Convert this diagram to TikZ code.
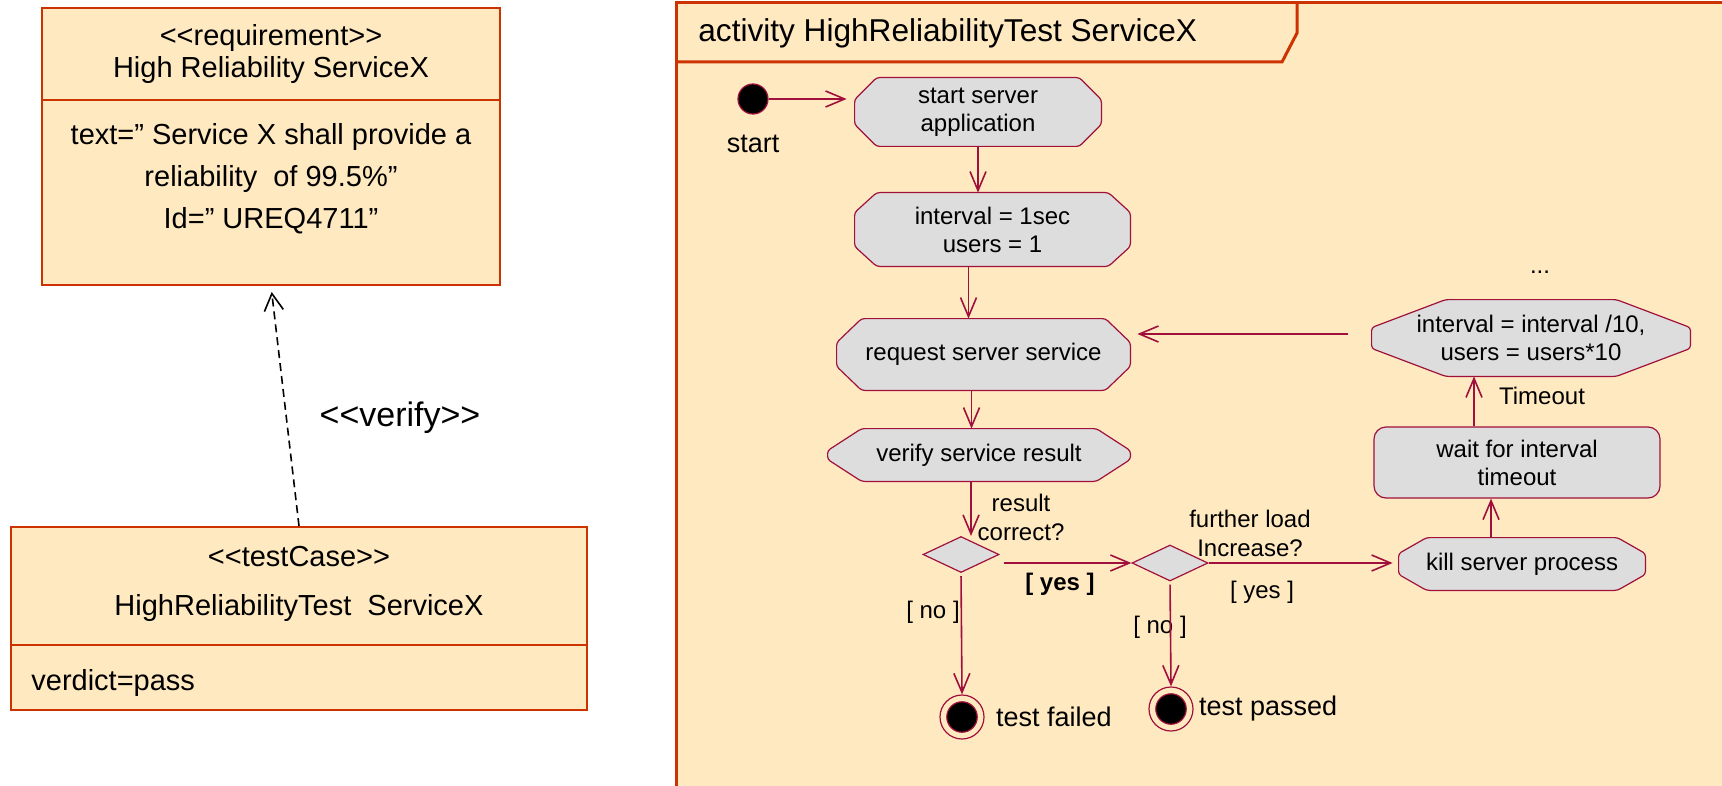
\documentclass[tikz,border=0pt]{standalone}
\usepackage{fontspec}
\setmainfont{Liberation Sans}
\usetikzlibrary{positioning,arrows.meta,calc,shapes.geometric}

\definecolor{boxfill}{HTML}{FFE9C0}
\definecolor{boxline}{HTML}{CC3300}
\definecolor{actfill}{HTML}{DDDDDD}
\definecolor{actline}{HTML}{A0103C}

\pgfdeclarelayer{bg}
\pgfdeclarelayer{shp}
\pgfsetlayers{bg,shp,main}

\newcommand{\stereoL}{<\kern0pt<}
\newcommand{\stereoR}{>\kern0pt>}

\begin{document}
\begin{tikzpicture}[
  x=0.5pt, y=-0.5pt,
  blk/.style={draw=boxline, line width=1pt, fill=boxfill, inner sep=0pt},
  lbl/.style={align=center, inner sep=0pt, font=\fontsize{14.5}{21}\selectfont},
  act/.style={align=center, inner sep=0pt, font=\fontsize{12}{14}\selectfont},
  actshape/.style={draw=actline, fill=actfill, line width=0.6pt, rounded corners=1.5pt},
  guard/.style={align=center, inner sep=0pt, font=\fontsize{12}{14.5}\selectfont},
  big/.style={inner sep=0pt, font=\fontsize{13.5}{16}\selectfont},
  dec/.style={diamond, draw=actline, fill=actfill, line width=0.6pt,
              minimum width=38pt, minimum height=18pt, inner sep=0pt},
  startdot/.style={circle, fill=black, draw=actline, line width=0.6pt,
                   minimum size=15pt, inner sep=0pt},
  finish/.style={circle, draw=actline, fill=boxfill, line width=0.6pt,
                 minimum size=22pt, inner sep=0pt,
                 path picture={\filldraw[fill=black, draw=actline, line width=0.6pt]
                   (path picture bounding box.center) circle (7.6pt);}},
  flow/.style={draw=actline, line width=0.8pt,
               -{Straight Barb[length=9.5pt, width=8pt]}},
  dep/.style={draw=black, line width=0.8pt, dash pattern=on 4pt off 2.5pt,
              -{Straight Barb[length=8.5pt, width=9.5pt]}},
  frameline/.style={draw=boxline, line width=1.5pt}]
\useasboundingbox (0,0) rectangle (1722,786);

% requirement and test case
\node[blk, minimum width=229pt, minimum height=138.5pt] (reqt) at (271,146.5) {};
\draw[boxline, line width=0.7pt] (reqt.west |- 0,100) -- (reqt.east |- 0,100);
\node[lbl, font=\fontsize{14.5}{16}\selectfont] (reqtitle) at (271,54)
  {\stereoL requirement\stereoR\\High Reliability ServiceX};
\node[lbl] (reqtext) at (271,178.5)
  {text=” Service X shall provide a\\reliability~ of 99.5\%”\\Id=” UREQ4711”};

\node[blk, minimum width=288pt, minimum height=91.5pt] (tcase) at (299,618.5) {};
\draw[boxline, line width=0.7pt] (tcase.west |- 0,645) -- (tcase.east |- 0,645);
\node[lbl] (tcstereo) at (299,557) {\stereoL testCase\stereoR};
\node[lbl] (tcname) at (299,608) {HighReliabilityTest~ ServiceX};
\node[lbl, anchor=west] (verdict) at (31,683) {verdict=pass};

\draw[dep, shorten >=3pt] (tcase.north) -- (reqt.south);
\node[inner sep=0pt, font=\fontsize{17}{20}\selectfont] (verify) at (400,418)
  {\stereoL verify\stereoR};

% activity frame
\begin{pgfonlayer}{bg}
\fill[boxfill] (676,3) rectangle (1722,786);
\draw[frameline] (1722,3) -- (676,3) -- (676,786);
\draw[frameline] (676,62) -- (1282,62) -- (1297,33) -- (1297,3);
\end{pgfonlayer}
\node[anchor=west, inner sep=0pt, font=\fontsize{15.8}{18}\selectfont] (title)
  at (698,33) {activity HighReliabilityTest ServiceX};

% actions
\node[startdot] (start) at (753,99) {};
\node[big, below=10pt of start] (startlbl) {start};
\node[act, minimum width=123pt, minimum height=34pt] (srv) at (978,112) {start server\\application};
\node[act, minimum width=137.5pt, minimum height=36.5pt] (init) at (992.5,229.5) {interval = 1sec\\users = 1};
\node[act, minimum width=146.5pt, minimum height=35.5pt] (reqs) at (983.5,354.5) {request server service};
\node[act, minimum width=151pt, minimum height=26pt] (verif) at (979,455) {verify service result};
\node[dec] (d1) at (961,554.5) {};
\node[dec] (d2) at (1170,563) {};
\node[finish] (fail) at (962,717) {};
\node[finish] (pass) at (1171,709) {};
\node[big, right=5.5pt of fail] (faillbl) {test failed};
\node[big, right=2.5pt of pass] (passlbl) {test passed};
\node[act, minimum width=123pt, minimum height=26pt] (kill) at (1522,564) {kill server process};
\node[act, draw=actline, fill=actfill, line width=0.6pt, rounded corners=6pt,
      minimum width=143pt, minimum height=35.5pt] (wait) at (1517,462.5) {wait for interval\\timeout};
\node[act, minimum width=159pt, minimum height=38pt] (incr) at (1531,338)
  {interval = interval /10,\\users = users*10};
\node[act] (more) at (1540,272) {...};

\begin{pgfonlayer}{shp}
\foreach \n/\dx/\dy in {srv/22/22, init/22/20, reqs/25/24, verif/34/22, kill/28/16, incr/74/28}
  \filldraw[actshape] ($(\n.north west)+(\dx,0)$) -- ($(\n.north east)+(-\dx,0)$)
    -- ($(\n.north east)+(0,\dy)$) -- ($(\n.south east)+(0,-\dy)$)
    -- ($(\n.south east)+(-\dx,0)$) -- ($(\n.south west)+(\dx,0)$)
    -- ($(\n.south west)+(0,-\dy)$) -- ($(\n.north west)+(0,\dy)$) -- cycle;
\end{pgfonlayer}

% guards
\node[guard] (cond1) at (1021,517) {result\\correct?};
\node[guard] (cond2) at (1250,533) {further load\\Increase?};
\node[guard, font=\bfseries\fontsize{12}{14}\selectfont] (yes1) at (1060,584) {[ yes ]};
\node[guard] (yes2) at (1262,592) {[ yes ]};
\node[guard] (no1) at (933,612) {[ no ]};
\node[guard] (no2) at (1160,627) {[ no ]};
\node[guard] (tmo) at (1542,396) {Timeout};

% flows
\draw[flow, shorten >=4pt] (start) -- (start -| srv.west);
\draw[flow] (srv.south) -- (srv.south |- init.north);
\draw[flow] ([xshift=-12pt]init.south) -- ([xshift=-12pt]init.south |- reqs.north);
\draw[flow] ([xshift=-6pt]reqs.south) -- ([xshift=-6pt]reqs.south |- verif.north);
\draw[flow] ([xshift=-4pt]verif.south) -- ([xshift=-4pt]verif.south |- d1.north);
\draw[flow, shorten <=2pt] (d1.east |- d2.west) -- (d2.west);
\draw[flow, shorten >=3pt] (d2.east) -- (d2.east -| kill.west);
\draw[flow] ([xshift=-15.5pt]kill.north) -- ([xshift=-15.5pt]kill.north |- wait.south);
\draw[flow] ([xshift=-21.5pt]wait.north) -- ([xshift=-21.5pt]wait.north |- incr.south);
\draw[flow, shorten <=12pt, shorten >=3.5pt] ([yshift=2pt]incr.west) -- ([yshift=2pt]incr.west -| reqs.east);
\draw[flow, shorten <=1.5pt] (d1.south) -- (fail.north);
\draw[flow, shorten <=1.5pt] (d2.south) -- (pass.north);
\end{tikzpicture}
\end{document}
